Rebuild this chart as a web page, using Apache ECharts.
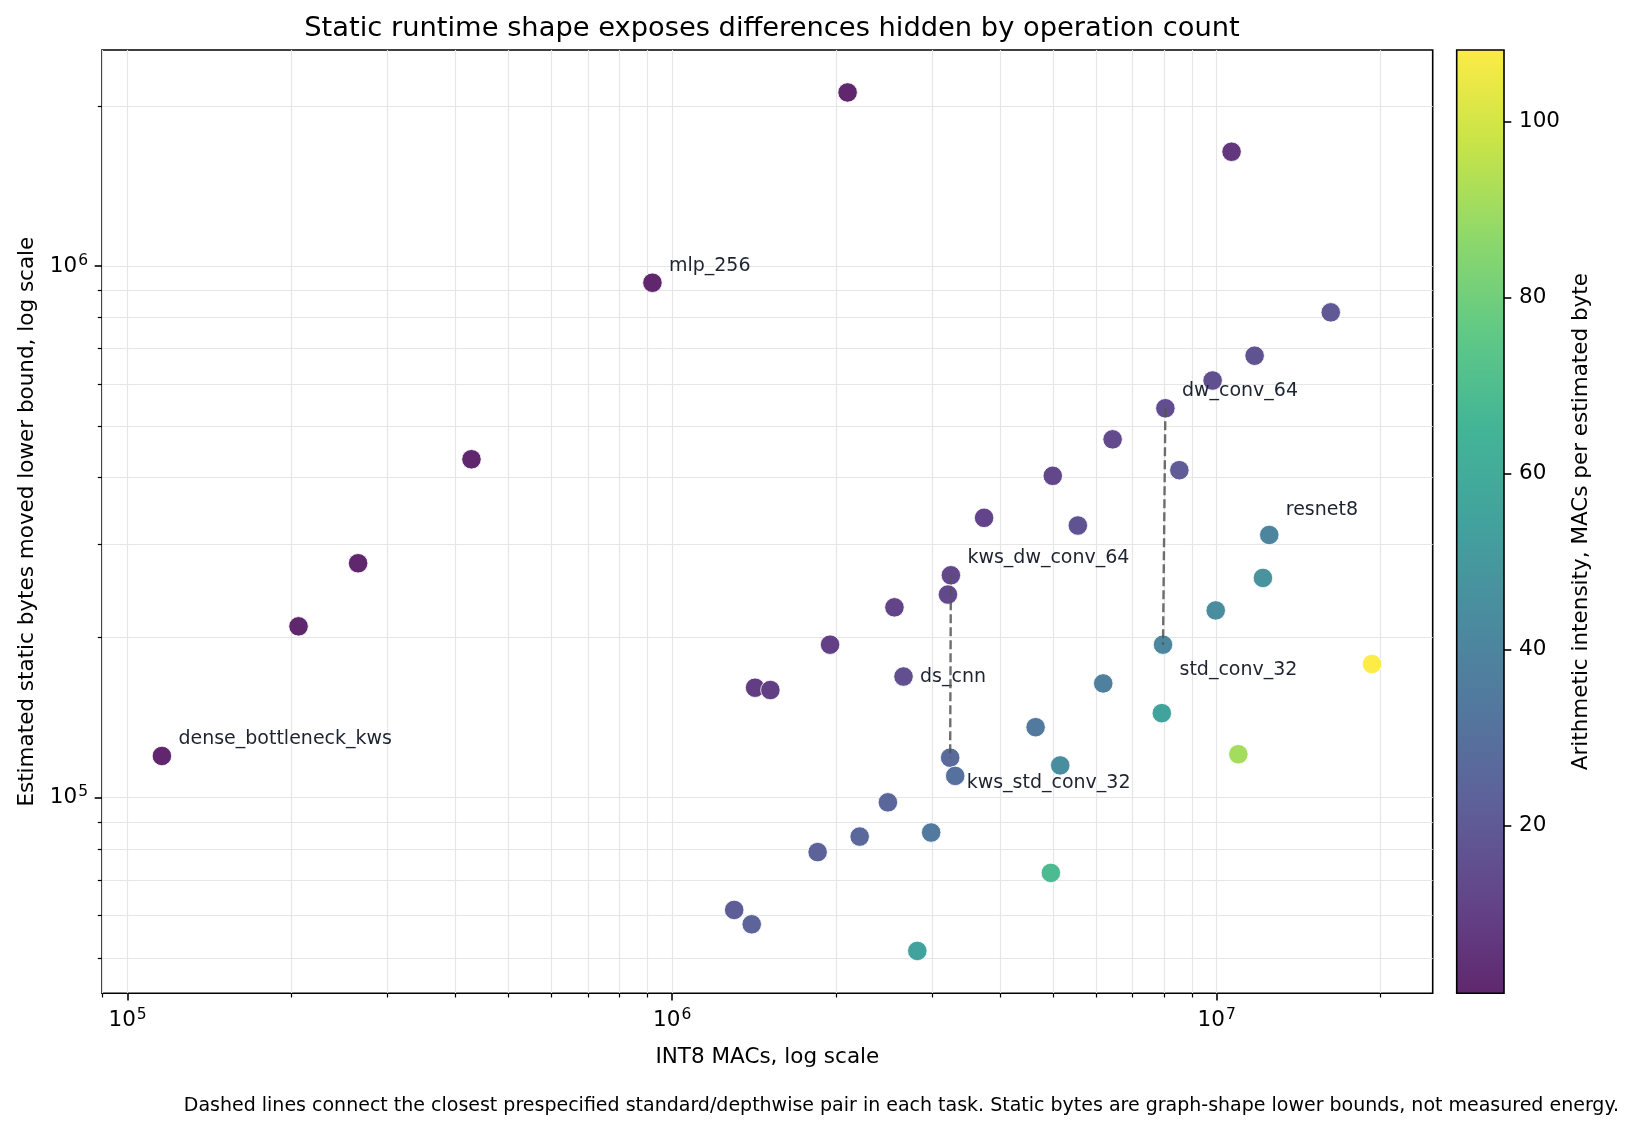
<!DOCTYPE html>
<html>
<head>
<meta charset="utf-8">
<title>Static runtime shape vs operation count</title>
<script src="https://cdn.jsdelivr.net/npm/echarts@6/dist/echarts.min.js"></script>
<style>
  html, body { margin: 0; padding: 0; background: #fff; }
  #main { width: 1636px; height: 1135px; }
</style>
</head>
<body>
<div id="main"></div>
<script>
// INT8 MACs per model (x)
var macs = [2.10e6, 1.065e7, 9.20e5, 1.62e7, 1.174e7, 9.83e6, 8.05e6, 4.28e5, 6.44e6, 5.00e6,
            8.54e6, 3.74e6, 5.56e6, 1.249e7, 2.65e5, 3.25e6, 3.21e6, 1.216e7, 2.56e6, 9.96e6,
            2.06e5, 1.95e6, 7.97e6, 1.929e7, 2.66e6, 6.19e6, 1.42e6, 1.515e6, 7.93e6, 4.65e6,
            1.156e5, 1.096e7, 3.24e6, 5.16e6, 3.31e6, 2.49e6, 2.99e6, 2.21e6, 1.85e6, 4.96e6,
            1.30e6, 1.40e6, 2.82e6];
// estimated static bytes moved (y)
var bytes = [2.12e6, 1.64e6, 9.30e5, 8.18e5, 6.78e5, 6.09e5, 5.40e5, 4.33e5, 4.72e5, 4.03e5,
             4.13e5, 3.36e5, 3.25e5, 3.12e5, 2.76e5, 2.62e5, 2.41e5, 2.59e5, 2.28e5, 2.25e5,
             2.10e5, 1.94e5, 1.94e5, 1.784e5, 1.69e5, 1.64e5, 1.61e5, 1.594e5, 1.442e5, 1.357e5,
             1.198e5, 1.207e5, 1.189e5, 1.150e5, 1.099e5, 9.80e4, 8.60e4, 8.45e4, 7.90e4, 7.22e4,
             6.15e4, 5.78e4, 5.15e4];
// arithmetic intensity, MACs per estimated byte (colour)
var intensity = [0.99, 6.5, 0.99, 19.8, 17.3, 16.2, 14.9, 0.99, 13.7, 12.4,
                 20.7, 11.1, 17.1, 40.0, 0.96, 12.4, 13.3, 47.0, 11.2, 44.2,
                 0.98, 10.0, 41.2, 108.1, 15.7, 37.8, 8.8, 9.5, 55.0, 34.2,
                 0.96, 90.8, 27.2, 44.9, 30.1, 25.4, 34.8, 26.2, 23.4, 68.7,
                 21.1, 24.3, 54.7];

var labelNames = ['mlp_256', 'dw_conv_64', 'resnet8', 'kws_dw_conv_64', 'std_conv_32',
                  'ds_cnn', 'dense_bottleneck_kws', 'kws_std_conv_32'];
var labelIndex = [2, 6, 13, 15, 22, 24, 30, 32];
// standard/depthwise pairs joined by dashed lines
var pairs = [[15, 32], [6, 22]];

var xMajorTicks = [1e5, 1e6, 1e7];
var xMinorTicks = [9e4, 2e5, 3e5, 4e5, 5e5, 6e5, 7e5, 8e5, 9e5,
                   2e6, 3e6, 4e6, 5e6, 6e6, 7e6, 8e6, 9e6, 2e7];
var yMajorTicks = [1e5, 1e6];
var yMinorTicks = [5e4, 6e4, 7e4, 8e4, 9e4, 2e5, 3e5, 4e5, 5e5, 6e5, 7e5, 8e5, 9e5, 2e6];
var cbTicks = [20, 40, 60, 80, 100];

var X_MIN = 89730, X_MAX = 2.493e7, Y_MIN = 42866, Y_MAX = 2.548e6;
var C_MIN = 0.94, C_MAX = 108.1;

var FONT = 'DejaVu Sans';
// viridis, as seen at alpha 0.85 on white
var viridis = ['#60276e', '#63458a', '#5e6099', '#53779e', '#4a8c9f', '#42a29d',
               '#43b596', '#60c986', '#8ed86b', '#c7e447', '#fdeb46'];
var labelDy = { 'resnet8': -25, 'ds_cnn': 1, 'kws_std_conv_32': 25, 'std_conv_32': 25 };

var lg = function (v) { return Math.log10(v); };
var supFmt = function (v) { return '10{sup|' + Math.round(v) + '}'; };
var tickRich = {
    sup: { fontFamily: FONT, fontSize: 15.5, verticalAlign: 'top', padding: [0, 0, 11, 1], color: '#000' }
};

var points = macs.map(function (m, i) {
    var item = { value: [m, bytes[i], intensity[i]] };
    var k = labelIndex.indexOf(i);
    if (k >= 0) {
        var nm = labelNames[k];
        item.label = { show: true, formatter: nm,
                       offset: [16.5, labelDy[nm] !== undefined ? labelDy[nm] : -17] };
    }
    return item;
});

var pairSeries = pairs.map(function (p) {
    return {
        type: 'line', xAxisIndex: 0, yAxisIndex: 0, z: 5, silent: true,
        symbol: 'none', animation: false,
        lineStyle: { color: '#555', width: 2.4, type: [9, 4], opacity: 0.85 },
        data: [[macs[p[0]], bytes[p[0]]], [macs[p[1]], bytes[p[1]]]]
    };
});

var cbStops = viridis.map(function (c, i) { return { offset: 1 - i / (viridis.length - 1), color: c }; });

var myChart = echarts.init(document.getElementById('main'));
var option = {
    animation: false,
    backgroundColor: '#fff',
    textStyle: { fontFamily: FONT },
    title: {
        text: 'Static runtime shape exposes differences hidden by operation count',
        left: 767, top: 10, textAlign: 'center',
        textStyle: { fontFamily: FONT, fontSize: 27.3, fontWeight: 'normal', color: '#000' }
    },
    grid: [
        { left: 102, top: 50, width: 1330.7, height: 943.3, show: true,
          borderColor: '#000', borderWidth: 1.6, backgroundColor: 'transparent', containLabel: false },
        { left: 1456.7, top: 50, width: 47.3, height: 943.3, show: true, z: 10,
          borderColor: '#000', borderWidth: 1.6,
          backgroundColor: new echarts.graphic.LinearGradient(0, 0, 0, 1, cbStops) }
    ],
    xAxis: [
        { type: 'log', gridIndex: 0, min: X_MIN, max: X_MAX, show: false, position: 'bottom' },
        { type: 'value', gridIndex: 0, min: lg(X_MIN), max: lg(X_MAX), position: 'bottom',
          axisLine: { show: false, onZero: false },
          axisTick: { show: true, length: 7.3, lineStyle: { color: '#000', width: 1.6 },
                      customValues: xMajorTicks.map(lg) },
          axisLabel: { customValues: xMajorTicks.map(lg), formatter: supFmt, margin: 14,
                       fontFamily: FONT, fontSize: 21.5, color: '#000', rich: tickRich },
          splitLine: { show: true, lineStyle: { color: '#e6e6e6', width: 1.2 } },
          name: 'INT8 MACs, log scale', nameLocation: 'middle', nameGap: 53,
          nameTextStyle: { fontFamily: FONT, fontSize: 21.5, color: '#000' } },
        { type: 'value', gridIndex: 0, min: lg(X_MIN), max: lg(X_MAX), position: 'bottom',
          axisLine: { show: false, onZero: false },
          axisTick: { show: true, length: 4.2, lineStyle: { color: '#000', width: 1.2 },
                      customValues: xMinorTicks.map(lg) },
          axisLabel: { show: false },
          splitLine: { show: true, lineStyle: { color: '#e6e6e6', width: 1.2 } } },
        { type: 'value', gridIndex: 1, min: 0, max: 1, show: false }
    ],
    yAxis: [
        { type: 'log', gridIndex: 0, min: Y_MIN, max: Y_MAX, show: false, position: 'left' },
        { type: 'value', gridIndex: 0, min: lg(Y_MIN), max: lg(Y_MAX), position: 'left',
          axisLine: { show: false, onZero: false },
          axisTick: { show: true, length: 7.3, lineStyle: { color: '#000', width: 1.6 },
                      customValues: yMajorTicks.map(lg) },
          axisLabel: { customValues: yMajorTicks.map(lg), formatter: supFmt, margin: 14,
                       fontFamily: FONT, fontSize: 21.5, color: '#000', rich: tickRich },
          splitLine: { show: true, lineStyle: { color: '#e6e6e6', width: 1.2 } },
          name: 'Estimated static bytes moved lower bound, log scale',
          nameLocation: 'middle', nameRotate: 90, nameGap: 60,
          nameTextStyle: { fontFamily: FONT, fontSize: 21.5, color: '#000' } },
        { type: 'value', gridIndex: 0, min: lg(Y_MIN), max: lg(Y_MAX), position: 'left',
          axisLine: { show: false, onZero: false },
          axisTick: { show: true, length: 4.2, lineStyle: { color: '#000', width: 1.2 },
                      customValues: yMinorTicks.map(lg) },
          axisLabel: { show: false },
          splitLine: { show: true, lineStyle: { color: '#e6e6e6', width: 1.2 } } },
        { type: 'value', gridIndex: 1, min: C_MIN, max: C_MAX, position: 'right',
          axisLine: { show: false, onZero: false },
          axisTick: { show: true, length: 7.3, lineStyle: { color: '#000', width: 1.6 },
                      customValues: cbTicks },
          axisLabel: { customValues: cbTicks, margin: 15, fontFamily: FONT, fontSize: 21.5, color: '#000' },
          splitLine: { show: false },
          name: 'Arithmetic intensity, MACs per estimated byte',
          nameLocation: 'middle', nameRotate: 90, nameGap: 66,
          nameTextStyle: { fontFamily: FONT, fontSize: 21.5, color: '#000' } }
    ],
    visualMap: {
        type: 'continuous', show: false, min: C_MIN, max: C_MAX, dimension: 2, seriesIndex: 0,
        inRange: { color: viridis }
    },
    series: [
        {
            type: 'scatter', xAxisIndex: 0, yAxisIndex: 0, z: 3,
            symbol: 'circle', symbolSize: 19.5,
            itemStyle: { borderColor: '#fff', borderWidth: 0.8, opacity: 1 },
            label: { show: false, position: ['50%', '50%'], align: 'left', verticalAlign: 'middle',
                     fontFamily: FONT, fontSize: 19, color: '#1d2430', opacity: 1 },
            emphasis: { disabled: true },
            data: points
        }
    ].concat(pairSeries),
    graphic: [
        { type: 'text', right: 17, top: 1097,
          style: { text: 'Dashed lines connect the closest prespecified standard/depthwise pair in each task. Static bytes are graph-shape lower bounds, not measured energy.',
                   font: '19px "DejaVu Sans"', fill: '#000' } }
    ]
};
myChart.setOption(option);
</script>
</body>
</html>
